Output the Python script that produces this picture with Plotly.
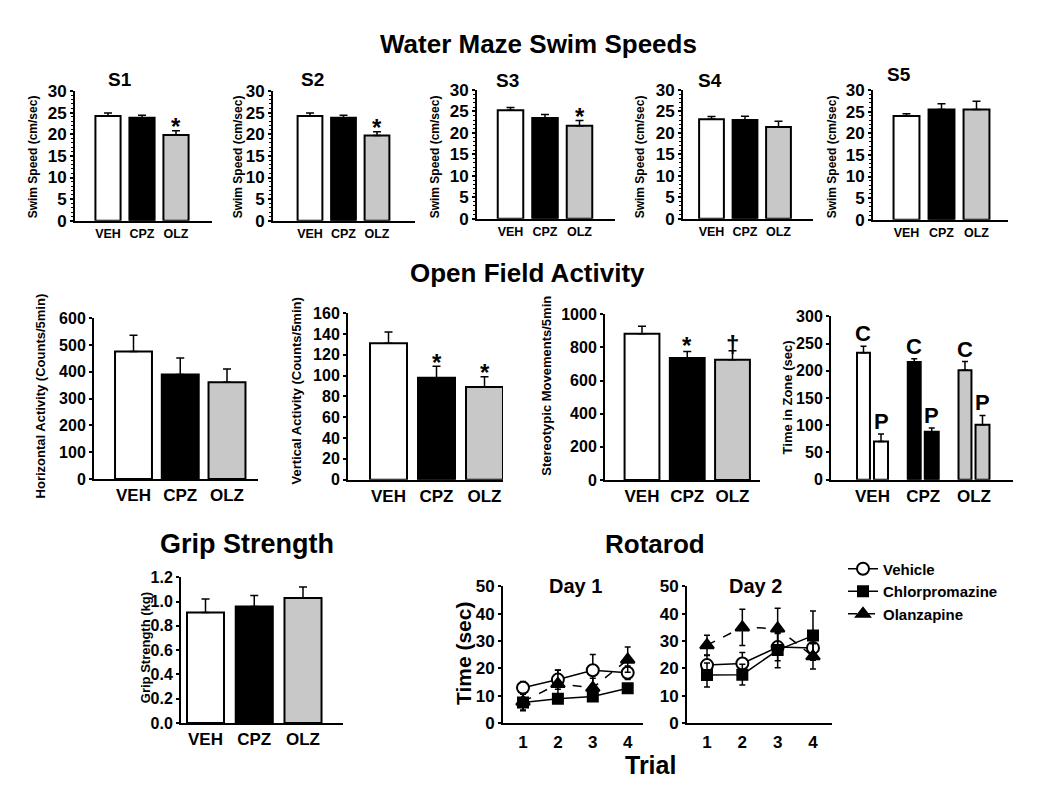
import plotly.graph_objects as go

W, H = 1050, 787
FONT = "Liberation Sans, Arial, sans-serif"

# ---------------- data ----------------
groups = ["VEH", "CPZ", "OLZ"]
bar_colors = ["white", "black", "#c8c8c8"]

sessions = ["S1", "S2", "S3", "S4", "S5"]
swim_mean = {
    "S1": [24.2, 23.8, 19.8],
    "S2": [24.2, 23.8, 19.7],
    "S3": [25.3, 23.5, 21.7],
    "S4": [23.2, 23.0, 21.4],
    "S5": [24.0, 25.5, 25.5],
}
swim_sem = {
    "S1": [0.7, 0.6, 1.0],
    "S2": [0.7, 0.6, 0.9],
    "S3": [0.6, 0.8, 1.2],
    "S4": [0.6, 0.9, 1.3],
    "S5": [0.5, 1.3, 1.9],
}
swim_sig = {"S1": [None, None, "*"], "S2": [None, None, "*"], "S3": [None, None, "*"],
            "S4": [None, None, None], "S5": [None, None, None]}

horiz_mean = [475, 390, 361]
horiz_sem = [61, 61, 49]
vert_mean = [131, 98, 89]
vert_sem = [11, 11, 10]
vert_sig = [None, "*", "*"]
stereo_mean = [882, 735, 725]
stereo_sem = [45, 40, 55]
stereo_sig = [None, "*", "†"]
zone_center = [233, 216, 201]
zone_center_sem = [12, 6, 16]
zone_periph = [70, 88, 101]
zone_periph_sem = [14, 7, 17]

grip_mean = [0.91, 0.96, 1.03]
grip_sem = [0.11, 0.09, 0.09]

trials = [1, 2, 3, 4]
day1_veh = [12.9, 15.9, 19.3, 18.4]
day1_veh_sem = [2.3, 3.5, 5.8, 2.5]
day1_cpz = [7.5, 8.9, 9.7, 12.7]
day1_cpz_sem = [3.0, 1.2, 1.0, 1.0]
day1_olz = [7.8, 14.3, 12.9, 23.2]
day1_olz_sem = [3.0, 5.0, 3.5, 4.6]
day2_veh = [21.2, 21.8, 27.8, 27.5]
day2_veh_sem = [3.5, 4.0, 5.0, 3.0]
day2_cpz = [17.6, 17.7, 26.7, 32.0]
day2_cpz_sem = [4.4, 3.8, 6.5, 9.0]
day2_olz = [28.5, 35.0, 34.6, 24.4]
day2_olz_sem = [3.6, 6.6, 7.4, 4.6]

# ---------------- layout helpers ----------------
fig = go.Figure()
layout = {}
annotations = []


def ax_ids(i):
    s = "" if i == 1 else str(i)
    return "x" + s, "y" + s, "xaxis" + s, "yaxis" + s


def make_axes(i, left, right, top, bottom, xrange, yrange, dtick, tick_size, xtick_size,
              tickformat=None, minor=False, xnumeric=False, xstandoff=None):
    xid, yid, xk, yk = ax_ids(i)
    xa = dict(domain=[left / W, right / W], anchor=yid, range=xrange,
              showline=True, linecolor="black", linewidth=2, showgrid=False, zeroline=False,
              ticks="", tickfont=dict(family=FONT, size=xtick_size, color="black", weight="bold"),
              fixedrange=True)
    if xnumeric:
        xa.update(tickmode="array", tickvals=trials, ticktext=[str(t) for t in trials])
    if xstandoff is not None:
        xa["ticklabelstandoff"] = xstandoff
    ya = dict(domain=[1 - bottom / H, 1 - top / H], anchor=xid, range=yrange,
              showline=True, linecolor="black", linewidth=2, showgrid=False, zeroline=False,
              ticks="outside", ticklen=3, tickwidth=1.5, tickcolor="black", dtick=dtick, tick0=0,
              tickfont=dict(family=FONT, size=tick_size, color="black", weight="bold"),
              fixedrange=True)
    if tickformat:
        ya["tickformat"] = tickformat
    if minor:
        ya["minor"] = dict(dtick=1, ticks="outside", ticklen=2, tickwidth=1, tickcolor="black")
    layout[xk] = xa
    layout[yk] = ya
    return xid, yid


def xr(left, right, c0, s):
    return [(left - c0) / s, (right - c0) / s]


def bar_panel(i, means, sems, geom, yrange, dtick, tick_size, xtick_size, width,
              tickformat=None, minor=False, sig=None, sig_size=24, sig_shift=4):
    left, right, top, bottom, c0, s = geom
    xid, yid = make_axes(i, left, right, top, bottom, xr(left, right, c0, s), yrange, dtick,
                         tick_size, xtick_size, tickformat, minor)
    fig.add_trace(go.Bar(
        x=groups, y=means, xaxis=xid, yaxis=yid, width=width,
        marker=dict(color=bar_colors, line=dict(color="black", width=2)),
        error_y=dict(type="data", symmetric=False, array=sems, arrayminus=[0] * len(sems),
                     color="black", thickness=1.5, width=4),
        showlegend=False, hoverinfo="skip"))
    if sig:
        for g, m, e, t in zip(groups, means, sems, sig):
            if t:
                annotations.append(dict(x=g, y=m + e, xref=xid, yref=yid, text=t,
                                        showarrow=False, yanchor="middle", yshift=sig_shift,
                                        font=dict(family=FONT, size=sig_size, color="black",
                                                  weight="bold")))


def text(x, y, t, size, angle=0, xanchor="center"):
    annotations.append(dict(x=x / W, y=1 - y / H, xref="paper", yref="paper", text=t,
                            showarrow=False, textangle=angle, xanchor=xanchor, yanchor="middle",
                            font=dict(family=FONT, size=size, color="black", weight="bold")))


# ---------------- Water maze row ----------------
swim_geoms = [
    (75, 212, 84, 217, 108, 34),
    (273, 415, 84, 217, 310, 33.5),
    (477, 615, 83, 215, 510.5, 34.5),
    (683, 813, 83, 215, 711.5, 33.5),
    (873, 1008, 83, 216, 906.5, 35),
]
sess_label_pos = [(120, 72), (312, 72), (507, 73), (710, 73), (899, 67)]
swim_ytitle_x = [33, 238, 435, 640, 832]
for k, sname in enumerate(sessions):
    bar_panel(k + 1, swim_mean[sname], swim_sem[sname], swim_geoms[k], [0, 30], 5, 17, 12.5,
              0.74, minor=True, sig=swim_sig[sname], sig_size=24, sig_shift=4)
    text(*sess_label_pos[k], sname, 19)
    text(swim_ytitle_x[k], 152, "Swim Speed (cm/sec)", 12, angle=-90)

text(538, 36, "Water Maze Swim Speeds", 26)

# ---------------- Open field row ----------------
bar_panel(6, horiz_mean, horiz_sem, (94, 258, 316.7, 481.7, 133.5, 46.75), [0, 600], 100, 16, 17, 0.79)
text(40, 397, "Horizontal Activity (Counts/5min)", 13, angle=-90)

bar_panel(7, vert_mean, vert_sem, (348, 503, 311.7, 482.3, 388.5, 48), [0, 160], 20, 16, 17, 0.77,
          sig=vert_sig, sig_size=24, sig_shift=4)
text(297, 392, "Vertical Activity (Counts/5min)", 13, angle=-90)

bar_panel(8, stereo_mean, stereo_sem, (605, 760, 312.7, 482.7, 642, 45.25), [0, 1000], 200, 16, 17, 0.77,
          sig=stereo_sig, sig_size=24, sig_shift=6)
text(547, 386, "Stereotypic Movements/5min", 13, angle=-90)

# Time in zone (grouped C / P)
zl, zr, zt, zb, zc0, zs = 831, 1013, 315, 482.3, 872.5, 50.75
xid, yid = make_axes(9, zl, zr, zt, zb, xr(zl, zr, zc0, zs), [0, 300], 50, 16, 17)
for vals, sems, off, wid, lab in [(zone_center, zone_center_sem, -0.305, 0.255, "C"),
                                  (zone_periph, zone_periph_sem, 0.03, 0.275, "P")]:
    fig.add_trace(go.Bar(
        x=groups, y=vals, xaxis=xid, yaxis=yid, width=wid, offset=off,
        marker=dict(color=bar_colors, line=dict(color="black", width=2)),
        error_y=dict(type="data", symmetric=False, array=sems, arrayminus=[0] * 3,
                     color="black", thickness=1.5, width=3),
        showlegend=False, hoverinfo="skip"))
    for g, v, e in zip(groups, vals, sems):
        annotations.append(dict(x=g, y=v + e, xref=xid, yref=yid, text=lab, showarrow=False,
                                xshift=(off + wid / 2) * zs, yanchor="bottom", yshift=-2,
                                font=dict(family=FONT, size=22, color="black", weight="bold")))
text(787, 398, "Time in Zone (sec)", 13, angle=-90)

text(527, 271, "Open Field Activity", 26)

# ---------------- Grip strength ----------------
bar_panel(10, grip_mean, grip_sem, (181, 343, 582.3, 731.7, 205.5, 48.75), [0, 1.2], 0.2, 16, 17,
          0.76, tickformat=".1f")
text(145, 655, "Grip Strength (kg)", 13, angle=-90)
text(247, 548, "Grip Strength", 27)

# ---------------- Rotarod ----------------
series = [
    ("Vehicle", "circle", 12, "solid", "white"),
    ("Chlorpromazine", "square", 10, "solid", "black"),
    ("Olanzapine", "triangle-up", 12, "dash", "black"),
]
day_data = [
    [(day1_veh, day1_veh_sem), (day1_cpz, day1_cpz_sem), (day1_olz, day1_olz_sem)],
    [(day2_veh, day2_veh_sem), (day2_cpz, day2_cpz_sem), (day2_olz, day2_olz_sem)],
]
rot_geoms = [(503, 643, 591.7, 731.7, 523, 34.9), (687, 832, 591.7, 731.7, 707, 35.33)]
for d in range(2):
    left, right, top, bottom, c1, s = rot_geoms[d]
    xid, yid = make_axes(11 + d, left, right, top, bottom,
                         [1 + (left - c1) / s, 1 + (right - c1) / s], [0, 50], 10, 17, 17,
                         xnumeric=True, xstandoff=3)
    for (name, sym, size, dash, fill), (vals, sems) in zip(series, day_data[d]):
        fig.add_trace(go.Scatter(
            x=trials, y=vals, xaxis=xid, yaxis=yid, name=name, mode="lines+markers",
            line=dict(color="black", width=1.5, dash=dash),
            marker=dict(symbol=sym, size=size, color=fill, line=dict(color="black", width=2)),
            error_y=dict(type="data", array=sems, color="black", thickness=1.5, width=3),
            showlegend=(d == 0), legendgroup=name, hoverinfo="skip"))
text(575, 591, "Day 1", 20)
text(755, 591, "Day 2", 20)
text(655, 548, "Rotarod", 26)
text(463, 660, "Time (sec)", 21, angle=-90)
text(650, 775, "Trial", 25)

layout.update(
    width=W, height=H, margin=dict(l=0, r=0, t=0, b=0),
    paper_bgcolor="white", plot_bgcolor="white", barmode="overlay",
    font=dict(family=FONT, color="black"),
    showlegend=True,
    legend=dict(x=843 / W, y=1 - 557 / H, xanchor="left", yanchor="top",
                font=dict(family=FONT, size=15, color="black", weight="bold"),
                bgcolor="rgba(0,0,0,0)", itemwidth=30, tracegroupgap=0),
    annotations=annotations,
)
fig.update_layout(**layout)

fig.write_html("out.html", config={"displayModeBar": False},
               post_script="document.body.style.margin='0px';document.body.style.overflow='hidden';")
